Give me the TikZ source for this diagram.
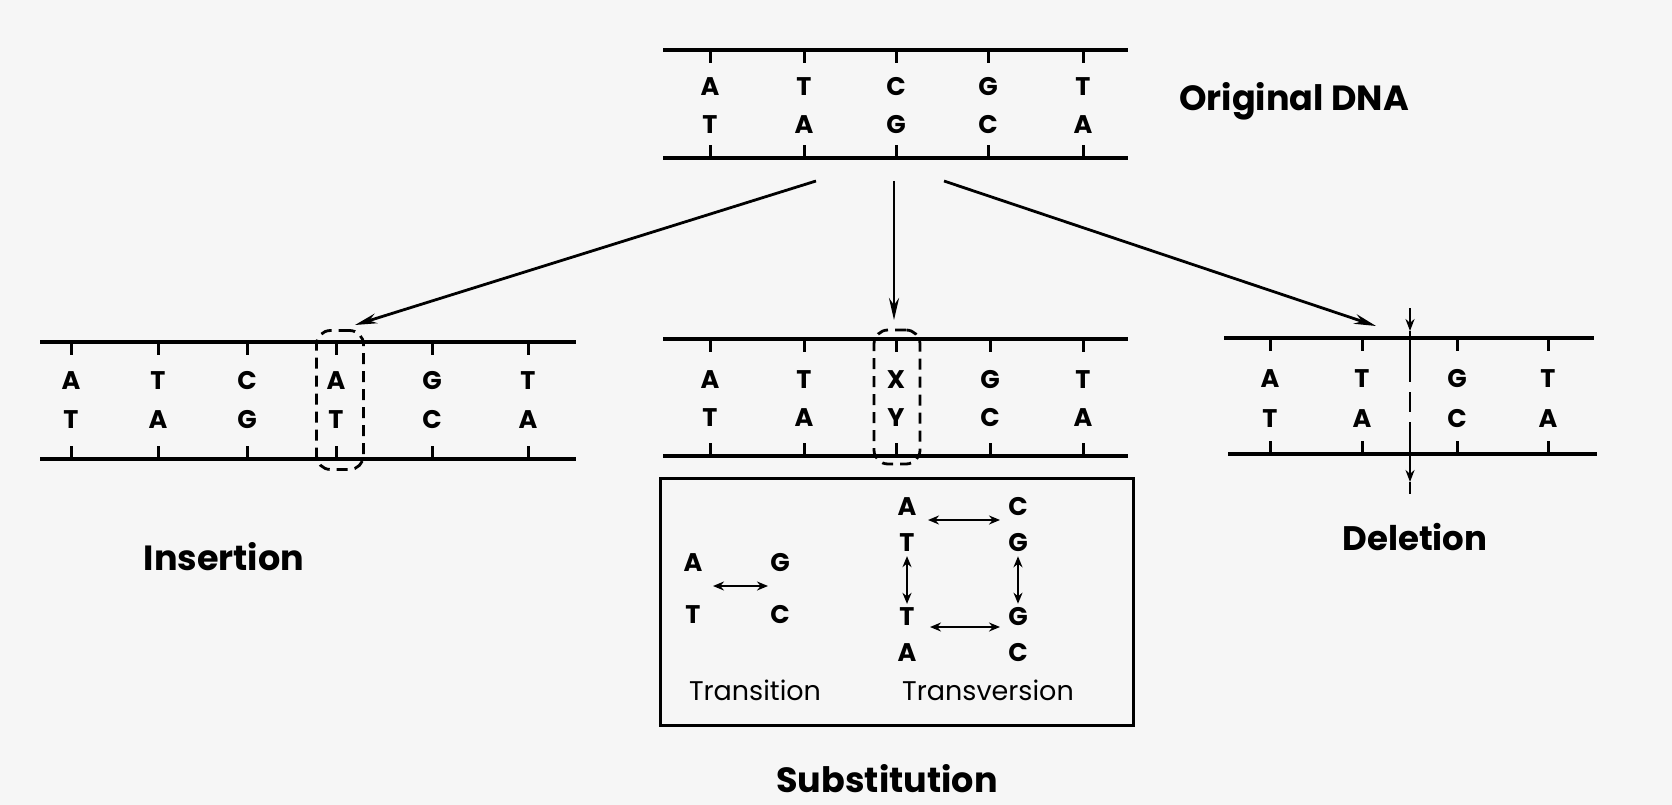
\documentclass[tikz,border=0pt]{standalone}
\usepackage{fontspec}
\setmainfont{Poppins}
\usetikzlibrary{arrows.meta}
\definecolor{bg}{RGB}{246,246,246}
\begin{document}
\begin{tikzpicture}[x=1pt,y=-1pt,
  strand/.style={line width=4pt},
  tickmark/.style={line width=3pt},
  base/.style={font=\bfseries\fontsize{25.5}{25.5}\selectfont, inner sep=0pt},
  title/.style={font=\bfseries\fontsize{34}{34}\selectfont, inner sep=0pt},
  small/.style={font=\fontsize{27}{27}\selectfont, inner sep=0pt},
  arr/.style={line width=2.8pt, -{Stealth[length=22pt,width=10pt]}},
  dbl/.style={line width=2.6pt, {Stealth[length=11pt,width=9pt]}-{Stealth[length=11pt,width=9pt]}},
  dashbox/.style={draw, line width=2.8pt, dashed, dash pattern=on 11pt off 7pt, rounded corners=14pt, inner sep=0pt},
]
\fill[bg] (0,0) rectangle (1672,805);
\useasboundingbox (0,0) rectangle (1672,805);

% ---------- Original DNA ----------
\draw[strand] (663,50) -- (1128,50);
\draw[strand] (663,158) -- (1128,158);
\foreach \x/\t/\b [count=\i] in {710/A/T,804/T/A,896/C/G,988/G/C,1083/T/A}{
  \draw[tickmark] (\x,50) -- (\x,63);
  \draw[tickmark] (\x,158) -- (\x,145);
  \node[base] (o-\i-t) at (\x,87) {\t};
  \node[base] (o-\i-b) at (\x,125) {\b};
}
\node[title, font=\bfseries\fontsize{35}{35}\selectfont] (origlabel) at (1294,101) {Original DNA};

% ---------- Insertion ----------
\draw[strand] (40,342) -- (576,342);
\draw[strand] (40,459) -- (576,459);
\foreach \x/\t/\b [count=\i] in {71/A/T,158/T/A,247/C/G,336/A/T,432/G/C,528/T/A}{
  \draw[tickmark] (\x,342) -- (\x,355);
  \draw[tickmark] (\x,459) -- (\x,446);
  \node[base] (i-\i-t) at (\x,381) {\t};
  \node[base] (i-\i-b) at (\x,420) {\b};
}
\node[dashbox, minimum width=47pt, minimum height=139pt] (ibox) at (340,400) {};
\node[title, font=\bfseries\fontsize{35}{35}\selectfont] (inslabel) at (224,557) {Insertion};

% ---------- Substitution ----------
\draw[strand] (663,339) -- (1128,339);
\draw[strand] (663,456) -- (1128,456);
\foreach \x/\t/\b [count=\i] in {710/A/T,804/T/A,896/X/Y,990/G/C,1083/T/A}{
  \draw[tickmark] (\x,339) -- (\x,352);
  \draw[tickmark] (\x,456) -- (\x,443);
  \node[base] (s-\i-t) at (\x,380) {\t};
  \node[base] (s-\i-b) at (\x,418) {\b};
}
\node[dashbox, minimum width=46pt, minimum height=134pt] (sbox) at (897,397) {};

\node[draw, line width=3pt, minimum width=473pt, minimum height=247pt, inner sep=0pt] (subbox) at (896.5,601.5) {};
% transition
\node[base] (tA) at (693,563) {A};
\node[base] (tG) at (780,563) {G};
\node[base] (tT) at (693,615) {T};
\node[base] (tC) at (780,615) {C};
\coordinate (ta1) at (713,586);
\coordinate (ta2) at (768,586);
\draw[dbl] (ta1) -- (ta2);
\node[small] (translab) at (755,690) {Transition};
% transversion
\node[base] (vA1) at (907,507) {A};
\node[base] (vC1) at (1018,507) {C};
\node[base] (vT1) at (907,543) {T};
\node[base] (vG1) at (1018,543) {G};
\node[base] (vT2) at (907,617) {T};
\node[base] (vG2) at (1018,617) {G};
\node[base] (vA2) at (907,653) {A};
\node[base] (vC2) at (1018,653) {C};
\coordinate (h1a) at (928,520);
\coordinate (h1b) at (1000,520);
\coordinate (h2a) at (930,627);
\coordinate (h2b) at (1000,627);
\draw[dbl] (h1a) -- (h1b);
\draw[dbl] (h2a) -- (h2b);
\draw[dbl, shorten <=4pt, shorten >=4pt] (vT1) -- (vT2);
\draw[dbl, shorten <=4pt, shorten >=4pt] (vG1) -- (vG2);
\node[small] (transvlab) at (988,690) {Transversion};
\node[title, font=\bfseries\fontsize{35}{35}\selectfont] (sublabel) at (887,779) {Substitution};

% ---------- Deletion ----------
\draw[strand] (1224,338) -- (1594,338);
\draw[strand] (1228,454) -- (1597,454);
\foreach \x/\t/\b [count=\i] in {1270/A/T,1362/T/A,1457/G/C,1548/T/A}{
  \draw[tickmark] (\x,338) -- (\x,351);
  \draw[tickmark] (\x,454) -- (\x,441);
  \node[base] (d-\i-t) at (\x,379) {\t};
  \node[base] (d-\i-b) at (\x,419) {\b};
}
\coordinate (dm1) at (1410,308);
\coordinate (dm2) at (1410,331);
\coordinate (dm3) at (1410,362);
\coordinate (dm4) at (1410,440);
\coordinate (dm5) at (1410,482);
\coordinate (dm6) at (1410,494);
\draw[line width=2.8pt, -{Stealth[length=12pt,width=9pt]}] (dm1) -- (dm2);
\draw[line width=2.8pt] (dm2) -- (dm3);
\draw[line width=2.8pt, dash pattern=on 20pt off 10pt] (dm3) -- (dm4);
\draw[line width=2.8pt, -{Stealth[length=12pt,width=9pt]}] (dm4) -- (dm5);
\draw[line width=2.8pt] (dm5) -- (dm6);
\node[title] (dellabel) at (1415,537) {Deletion};

% ---------- arrows from original ----------
\coordinate (a1s) at (816,181);
\coordinate (a1e) at (355,325);
\coordinate (a2s) at (894,181);
\coordinate (a2e) at (894,320);
\coordinate (a3s) at (944,181);
\coordinate (a3e) at (1376,326);
\draw[arr] (a1s) -- (a1e);
\draw[arr] (a2s) -- (a2e);
\draw[arr] (a3s) -- (a3e);
\end{tikzpicture}
\end{document}
